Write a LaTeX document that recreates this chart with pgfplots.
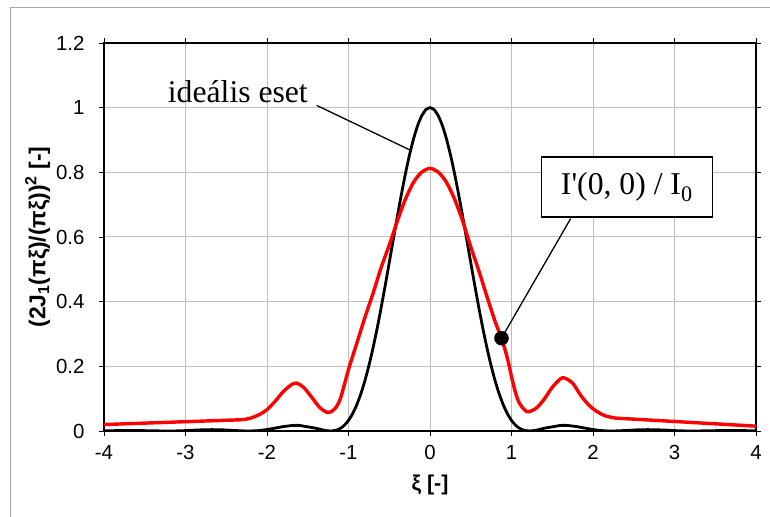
\documentclass[border=0pt]{standalone}
\usepackage{pgfplots}
\pgfplotsset{compat=1.18}
\usepackage{fontspec}
\setmainfont{Liberation Sans}
\newfontfamily\timesfont{Liberation Serif}
\begin{document}
\begin{tikzpicture}
\path[use as bounding box] (-104bp,-86bp) rectangle (666bp,431bp);
\draw[gray!70, line width=0.8bp] (-94bp,-86bp) -- (-94bp,424bp) -- (666bp,424bp);
\begin{axis}[
  at={(0,0)}, anchor=south west,
  scale only axis,
  width=652bp, height=388bp,
  xmin=-4, xmax=4, ymin=0, ymax=1.2,
  xtick={-4,-3,...,4},
  ytick={0,0.2,0.4,0.6,0.8,1,1.2},
  yticklabels={0,0.2,0.4,0.6,0.8,1,1.2},
  grid=major,
  major grid style={draw=black!25, line width=1bp},
  axis line style={black, line width=1.5bp},
  tick style={black, line width=0.8bp},
  tick align=outside,
  major tick length=5bp,
  tick label style={font=\fontsize{20.5}{24}\selectfont},
  /pgf/number format/assume math mode=true,
  xticklabel style={yshift=-6bp},
  yticklabel style={xshift=-11bp},
  xlabel={\textbf{ξ [-]}},
  ylabel={\textbf{(2J\textsubscript{1}(πξ)/(πξ))\textsuperscript{2} [-]}},
  label style={font=\fontsize{21.5}{25}\selectfont},
  xlabel style={yshift=-8bp},
  ylabel style={yshift=-1bp, font=\fontsize{23}{27}\selectfont},
  clip=true,
]
% ideal Airy pattern
\addplot[black, line width=2.8bp, smooth, tension=0.4] coordinates {
(-4.00,0.0006)(-3.95,0.0008)(-3.70,0.0016)(-3.45,0.0009)(-3.24,0.0000)(-3.05,0.0007)
(-2.85,0.0032)(-2.68,0.0042)(-2.55,0.0036)(-2.40,0.0016)(-2.23,0.0000)(-2.10,0.0013)
(-2.00,0.0046)(-1.90,0.0090)(-1.80,0.0136)(-1.70,0.0168)(-1.64,0.0175)(-1.60,0.0172)
(-1.50,0.0128)(-1.40,0.0085)(-1.30,0.0023)(-1.22,0.0000)(-1.15,0.0025)(-1.10,0.0081)
(-1.05,0.0179)(-1.00,0.0328)(-0.95,0.0534)(-0.90,0.0803)(-0.85,0.1139)(-0.80,0.1544)
(-0.75,0.2018)(-0.70,0.2558)(-0.65,0.3157)(-0.60,0.3806)(-0.55,0.4495)(-0.50,0.5209)
(-0.45,0.5931)(-0.40,0.6645)(-0.35,0.7332)(-0.30,0.7975)(-0.25,0.8554)(-0.20,0.9053)
(-0.15,0.9458)(-0.10,0.9756)(-0.05,0.9939)(0.00,1.0000)
(0.05,0.9939)(0.10,0.9756)(0.15,0.9458)(0.20,0.9053)(0.25,0.8554)(0.30,0.7975)
(0.35,0.7332)(0.40,0.6645)(0.45,0.5931)(0.50,0.5209)(0.55,0.4495)(0.60,0.3806)
(0.65,0.3157)(0.70,0.2558)(0.75,0.2018)(0.80,0.1544)(0.85,0.1139)(0.90,0.0803)
(0.95,0.0534)(1.00,0.0328)(1.05,0.0179)(1.10,0.0081)(1.15,0.0025)(1.22,0.0000)
(1.30,0.0023)(1.40,0.0085)(1.50,0.0128)(1.60,0.0172)(1.64,0.0175)(1.70,0.0168)
(1.80,0.0136)(1.90,0.0090)(2.00,0.0046)(2.10,0.0013)(2.23,0.0000)(2.40,0.0016)
(2.55,0.0036)(2.68,0.0042)(2.85,0.0032)(3.05,0.0007)(3.24,0.0000)(3.45,0.0009)
(3.70,0.0016)(3.95,0.0008)(4.00,0.0006)
};
% aberrated pattern: straight outer parts and smooth central part
\addplot[red, line width=3.4bp] coordinates {(-4.00,0.020)(-2.29,0.035)};
\addplot[red, line width=3.4bp] coordinates {(2.27,0.040)(4.00,0.015)};
\addplot[red, line width=3.4bp, smooth, tension=0.5] coordinates {
(-2.29,0.035)(-2.20,0.040)(-2.10,0.050)(-2.00,0.066)(-1.90,0.092)(-1.80,0.122)
(-1.70,0.143)(-1.64,0.148)(-1.55,0.135)(-1.45,0.104)(-1.35,0.072)(-1.25,0.057)
(-1.17,0.068)(-1.10,0.100)(-1.00,0.190)(-0.90,0.270)(-0.80,0.350)(-0.70,0.425)
(-0.60,0.505)(-0.50,0.575)(-0.40,0.650)(-0.30,0.718)(-0.20,0.770)(-0.10,0.801)
(0.00,0.812)(0.10,0.801)(0.20,0.770)(0.30,0.718)(0.40,0.650)(0.50,0.570)
(0.60,0.495)(0.70,0.415)(0.80,0.338)(0.877,0.287)(0.95,0.225)(1.00,0.168)
(1.05,0.118)(1.10,0.085)(1.19,0.060)(1.30,0.070)(1.40,0.098)(1.50,0.135)
(1.60,0.161)(1.65,0.164)(1.75,0.148)(1.85,0.110)(1.95,0.080)(2.05,0.060)
(2.15,0.047)(2.27,0.040)
};
% annotations
\draw[black, line width=1.3bp] (axis cs:-1.39,1.007) -- (axis cs:-0.245,0.869);
\node[anchor=base east, inner sep=0pt, font=\timesfont\fontsize{31.8}{38}\selectfont]
  at (axis cs:-1.497,1.017) {ideális eset};
\draw[black, line width=1.3bp] (axis cs:0.877,0.287) -- (axis cs:1.726,0.657);
\node[draw=black, line width=1.5bp, fill=white, minimum width=171bp, minimum height=60bp,
  inner sep=0pt, font=\timesfont\fontsize{31.8}{38}\selectfont]
  at (axis cs:2.415,0.754) {I\textquotesingle(0, 0) / I\textsubscript{0}};
\addplot[black, only marks, mark=*, mark size=7bp] coordinates {(0.877,0.287)};
\end{axis}
\end{tikzpicture}
\end{document}
